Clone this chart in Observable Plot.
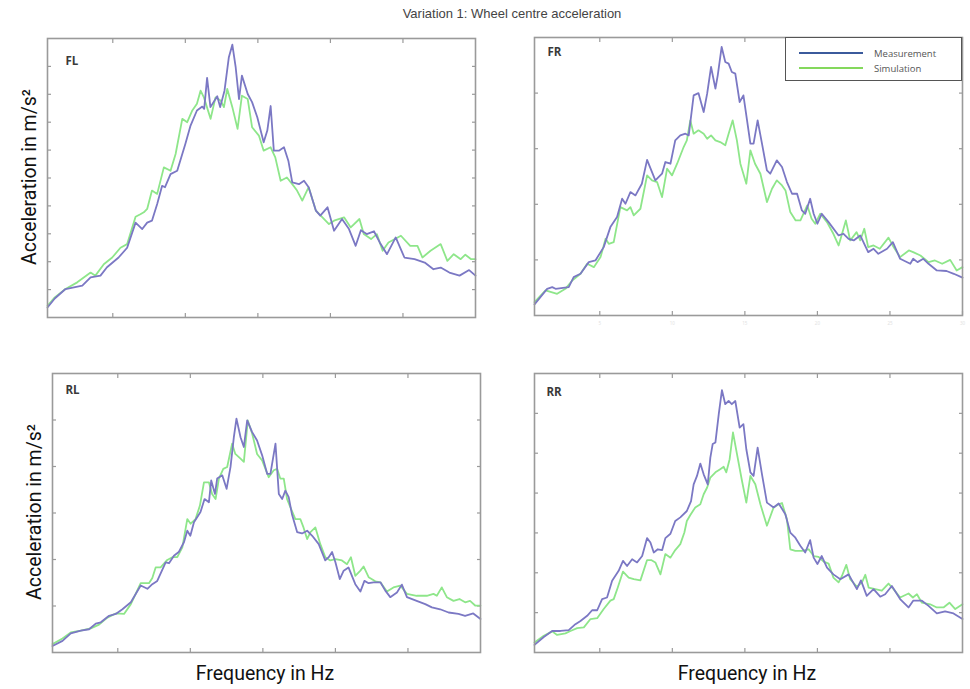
<!DOCTYPE html>
<html>
<head>
<meta charset="utf-8">
<script src="https://cdn.jsdelivr.net/npm/d3@7"></script>
<script src="https://cdn.jsdelivr.net/npm/@observablehq/plot@0.6"></script>
<style>
  body { margin: 0; background: #fff; }
  #chart { position: relative; width: 970px; height: 689px; overflow: hidden; background: #fff; }
  .panel { position: absolute; }
  .title { position: absolute; left: 312px; width: 400px; top: 6px; text-align: center;
           font: 13px "Liberation Sans", Arial, sans-serif; color: #444; }
  .ylab { position: absolute; width: 240px; text-align: center; transform: rotate(-90deg);
          font: 19.5px Roboto, "Noto Sans", sans-serif; color: #111; line-height: 22px; }
  .xlab { position: absolute; width: 240px; text-align: center;
          font: 19.5px Roboto, "Noto Sans", sans-serif; color: #111; line-height: 22px; }
  .legend { position: absolute; left: 785px; top: 37px; width: 175px; height: 42px;
            border: 1.5px solid #555; background: #fff; font: 9.5px "Open Sans", sans-serif; color: #555; }
  .legend .row { position: absolute; left: 0; height: 12px; display: flex; align-items: center; }
  .legend .sw { display: inline-block; width: 64px; height: 2.5px; margin-left: 13px; margin-right: 11px; }
</style>
</head>
<body>
<div id="chart">
  <div class="title">Variation 1: Wheel centre acceleration</div>
</div>
<script>
// Frequency axis (Hz) and tick positions
const freqDomain = [0.5, 30];
const freqTicks = [5, 10, 15, 20, 25];
const freqTicksLabelled = [5, 10, 15, 20, 25, 30];
const seriesNames = ["Measurement", "Simulation"];
const panelNames = ["FL", "FR", "RL", "RR"];
const yMaxima = [10, 5, 6, 7];

// Front left wheel: [frequency, acceleration]
const flMeasurement = [[0.5,0.36],[1.0,0.68],[1.74,1.02],[2.9,1.14],[3.47,1.44],[4.15,1.5],[4.6,1.8],[5.4,2.15],[5.99,2.5],[6.57,3.4],[7.03,3.17],[7.37,3.4],[7.7,3.47],[8.06,4.07],[8.4,4.72],[8.6,4.67],[8.98,5.14],[9.44,5.26],[9.79,5.86],[10.0,6.22],[10.36,6.88],[10.8,7.42],[11.17,7.56],[11.3,7.48],[11.5,8.59],[11.73,7.54],[12.2,7.93],[12.4,7.54],[12.7,8.13],[13.0,9.33],[13.24,9.78],[13.47,8.97],[13.7,7.83],[13.9,8.67],[14.3,8.01],[14.6,7.72],[14.96,7.18],[15.4,6.28],[15.65,6.7],[15.88,7.58],[16.1,5.98],[16.45,5.98],[16.8,6.1],[17.1,5.62],[17.37,4.84],[17.83,4.78],[18.18,4.9],[18.5,4.67],[19.0,3.83],[19.3,3.65],[19.8,3.95],[20.25,3.11],[20.8,3.53],[21.28,3.17],[21.74,2.57],[22.1,3.13],[22.5,2.99],[23.0,3.09],[23.4,2.69],[23.9,2.27],[24.5,2.87],[25.1,2.15],[25.8,2.09],[26.5,1.97],[27.1,1.73],[27.6,1.79],[28.2,1.61],[28.9,1.5],[29.56,1.7],[30,1.5]];
const flSimulation = [[0.5,0.42],[1.0,0.72],[1.74,1.02],[2.55,1.26],[3.47,1.61],[3.8,1.5],[4.38,1.91],[4.96,2.15],[5.53,2.5],[5.99,2.63],[6.57,3.61],[6.9,3.7],[7.14,3.77],[7.37,3.89],[7.7,4.55],[8.06,4.43],[8.52,5.38],[8.98,5.26],[9.33,5.86],[9.79,7.12],[10.13,7.0],[10.48,7.42],[10.8,7.66],[11.05,8.13],[11.28,7.89],[11.74,7.12],[12.08,7.89],[12.43,7.78],[12.66,7.54],[12.89,8.19],[13.24,7.54],[13.6,6.76],[13.9,7.95],[14.3,7.83],[14.6,6.82],[15.07,6.52],[15.4,5.98],[15.88,6.1],[16.2,5.74],[16.57,4.9],[17.0,5.02],[17.37,4.78],[17.7,4.55],[18.06,4.19],[18.5,4.67],[19.0,3.83],[19.45,3.59],[19.9,3.35],[20.25,3.47],[20.94,3.59],[21.4,3.23],[22.0,3.53],[22.3,2.99],[22.8,2.81],[23.2,2.99],[23.6,2.39],[24.0,2.69],[24.86,2.93],[25.5,2.57],[26.0,2.57],[26.34,2.15],[26.9,2.39],[27.6,2.63],[28.06,2.03],[28.5,2.27],[28.98,2.09],[29.3,2.25],[29.7,2.09],[30,2.09]];

// Front right wheel
const frMeasurement = [[0.5,0.2],[1.37,0.48],[1.72,0.51],[1.95,0.48],[2.86,0.51],[3.2,0.69],[3.67,0.75],[4.24,0.96],[4.7,0.99],[5.27,1.23],[5.73,1.59],[6.19,1.77],[6.54,2.1],[6.77,2.01],[7.11,2.22],[7.46,2.16],[7.9,2.37],[8.26,2.8],[8.6,2.58],[8.83,2.43],[9.29,2.55],[9.52,2.76],[9.87,2.73],[10.2,3.15],[10.55,3.24],[10.9,3.27],[11.13,3.24],[11.47,3.96],[11.8,4.0],[12.16,3.66],[12.4,3.99],[12.67,4.47],[12.97,4.08],[13.13,4.32],[13.4,4.83],[13.65,4.56],[13.88,4.53],[14.1,4.38],[14.34,4.35],[14.64,3.84],[14.9,3.96],[15.15,3.51],[15.38,3.09],[15.6,3.09],[15.88,3.51],[16.18,3.09],[16.52,2.61],[16.75,2.55],[17.2,2.79],[17.56,2.67],[17.9,2.4],[18.25,2.19],[18.6,2.19],[18.93,1.89],[19.16,1.83],[19.5,2.1],[19.74,1.83],[20.0,1.65],[20.3,1.83],[20.77,1.68],[21.46,1.44],[21.8,1.47],[22.15,1.38],[22.5,1.35],[22.95,1.44],[23.5,1.14],[23.87,1.2],[24.2,1.11],[24.8,1.2],[25.2,1.32],[25.7,1.02],[26.4,0.93],[26.6,1.02],[26.9,0.96],[27.3,1.02],[27.66,0.93],[28.23,0.81],[28.9,0.8],[29.4,0.75],[30,0.68]];
const frSimulation = [[0.5,0.24],[1.26,0.45],[2.06,0.39],[2.63,0.48],[3.1,0.63],[3.67,0.75],[4.13,0.93],[4.59,0.87],[5.05,1.05],[5.4,1.38],[5.62,1.29],[5.96,1.32],[6.42,1.95],[6.88,1.89],[7.11,1.95],[7.34,1.8],[7.8,1.92],[8.26,2.52],[8.6,2.43],[8.95,2.4],[9.29,2.13],[9.64,2.64],[9.98,2.52],[10.33,2.73],[10.78,3.03],[11.0,3.15],[11.24,3.51],[11.47,3.27],[11.8,3.33],[12.16,3.27],[12.4,3.18],[12.67,3.24],[12.97,3.15],[13.3,3.12],[13.65,3.06],[13.88,3.27],[14.16,3.51],[14.45,3.15],[14.69,2.73],[15.1,2.37],[15.38,2.97],[15.7,2.73],[16.07,2.55],[16.52,2.04],[16.87,2.28],[17.2,2.43],[17.56,2.34],[17.8,2.25],[18.13,1.86],[18.5,1.71],[18.83,1.71],[19.3,1.98],[19.6,1.74],[19.85,1.65],[20.2,1.83],[20.66,1.68],[21.1,1.47],[21.46,1.26],[21.7,1.47],[21.96,1.71],[22.26,1.35],[22.7,1.5],[22.95,1.35],[23.23,1.56],[23.5,1.23],[23.87,1.26],[24.3,1.2],[24.9,1.4],[25.25,1.23],[25.7,1.05],[26.3,1.17],[26.6,1.14],[27.1,1.08],[27.66,0.96],[28.1,0.99],[28.6,0.93],[29.15,1.0],[29.6,0.81],[30,0.87]];

// Rear left wheel
const rlMeasurement = [[0.5,0.14],[1.19,0.25],[1.76,0.41],[2.45,0.47],[3.02,0.5],[3.48,0.62],[3.83,0.65],[4.4,0.79],[4.86,0.83],[5.32,0.93],[5.9,1.08],[6.58,1.44],[7.04,1.37],[7.38,1.47],[7.72,1.54],[8.3,1.94],[8.53,1.92],[8.87,2.08],[9.2,2.16],[9.56,2.37],[9.79,2.62],[10.0,2.51],[10.25,2.8],[10.7,3.02],[10.98,3.3],[11.28,3.23],[11.44,3.7],[11.7,3.41],[11.85,3.74],[12.2,3.81],[12.5,3.52],[12.77,3.99],[13.0,4.63],[13.18,5.03],[13.46,4.63],[13.69,4.42],[13.92,4.99],[14.26,4.74],[14.6,4.56],[14.95,4.24],[15.3,3.84],[15.52,3.84],[15.87,4.49],[16.1,3.41],[16.33,3.3],[16.55,3.48],[16.78,3.34],[17.0,2.98],[17.36,2.59],[17.7,2.56],[18.05,2.62],[18.4,2.51],[18.85,2.33],[19.3,1.98],[19.54,2.05],[19.77,2.16],[20.0,1.94],[20.3,1.58],[20.57,1.76],[20.9,1.83],[21.37,1.47],[21.72,1.31],[22.0,1.54],[22.29,1.49],[22.63,1.51],[23.1,1.51],[23.44,1.33],[23.78,1.19],[24.24,1.29],[24.58,1.46],[24.93,1.19],[25.6,1.11],[26.19,1.04],[26.65,0.97],[27.22,0.93],[27.8,0.86],[28.48,0.83],[28.94,0.79],[29.5,0.84],[30,0.72]];
const rlSimulation = [[0.5,0.18],[1.19,0.3],[1.76,0.43],[2.45,0.47],[3.14,0.52],[3.71,0.6],[4.28,0.75],[4.86,0.84],[5.43,0.83],[5.9,1.04],[6.58,1.49],[7.15,1.49],[7.38,1.6],[7.61,1.83],[7.95,1.83],[8.41,1.99],[8.76,2.05],[9.1,2.05],[9.45,2.26],[9.79,2.87],[10.02,2.77],[10.36,2.87],[10.66,3.16],[10.94,3.66],[11.28,3.66],[11.5,3.41],[11.74,3.3],[11.97,3.74],[12.27,3.95],[12.54,3.99],[12.88,4.49],[13.1,4.27],[13.46,4.17],[13.69,4.1],[13.96,4.99],[14.26,4.71],[14.6,4.27],[14.95,4.13],[15.4,3.77],[15.75,3.92],[15.98,3.95],[16.2,3.74],[16.44,3.74],[16.67,3.3],[16.9,3.12],[17.24,2.87],[17.58,2.87],[17.8,2.69],[18.05,2.44],[18.28,2.59],[18.62,2.69],[18.96,2.33],[19.3,2.05],[19.65,1.98],[20.0,2.01],[20.45,1.98],[20.8,1.9],[21.07,2.05],[21.37,1.65],[21.72,1.76],[21.94,1.85],[22.29,1.62],[22.75,1.53],[23.1,1.51],[23.55,1.31],[24.0,1.4],[24.47,1.44],[24.93,1.26],[25.6,1.22],[26.3,1.22],[26.76,1.26],[26.99,1.22],[27.33,1.4],[27.68,1.19],[28.14,1.11],[28.55,1.15],[28.94,1.08],[29.28,1.11],[29.63,1.01],[30,1.01]];

// Rear right wheel
const rrMeasurement = [[0.5,0.19],[1.14,0.39],[1.72,0.54],[2.29,0.54],[2.86,0.56],[3.32,0.71],[3.67,0.79],[4.13,0.92],[4.47,1.06],[4.82,1.06],[5.16,1.34],[5.5,1.38],[5.85,1.8],[6.3,2.05],[6.6,2.3],[6.88,2.17],[7.23,2.34],[7.57,2.26],[7.92,2.42],[8.26,2.87],[8.49,2.76],[8.72,2.51],[9.0,2.59],[9.3,2.57],[9.52,2.87],[9.87,2.98],[10.2,3.3],[10.55,3.39],[11.0,3.55],[11.29,3.8],[11.47,4.22],[11.7,4.43],[11.93,4.74],[12.16,4.47],[12.44,4.22],[12.62,4.89],[12.78,5.23],[12.97,5.27],[13.2,5.98],[13.42,6.58],[13.65,6.23],[13.88,6.31],[14.1,6.23],[14.34,6.31],[14.64,5.64],[14.9,5.73],[15.1,5.1],[15.38,4.52],[15.6,4.43],[15.88,5.14],[16.18,4.47],[16.52,3.76],[16.98,3.64],[17.33,3.74],[17.79,3.47],[18.13,3.01],[18.48,2.88],[18.82,2.68],[19.16,2.51],[19.5,2.82],[19.74,2.38],[20.0,2.22],[20.3,2.42],[20.66,2.13],[21.1,1.96],[21.58,1.84],[22.15,1.96],[22.72,1.59],[23.0,1.81],[23.4,1.42],[23.87,1.59],[24.33,1.4],[24.67,1.46],[25.13,1.67],[25.7,1.34],[26.28,1.13],[26.6,1.3],[27.2,1.3],[27.66,1.17],[28.23,0.98],[28.8,1.03],[29.38,0.98],[30,0.84]];
const rrSimulation = [[0.5,0.25],[1.14,0.42],[1.72,0.53],[2.06,0.44],[2.63,0.48],[2.98,0.54],[3.44,0.61],[3.9,0.63],[4.36,0.84],[4.82,0.86],[5.27,1.09],[5.73,1.3],[5.96,1.34],[6.24,1.63],[6.6,2.03],[6.99,1.88],[7.34,1.84],[7.8,1.81],[8.26,2.32],[8.54,2.32],[8.83,2.26],[9.18,1.96],[9.52,2.47],[9.87,2.38],[10.2,2.57],[10.55,2.72],[10.83,3.01],[11.0,3.3],[11.24,3.45],[11.58,3.64],[11.93,3.72],[12.16,3.97],[12.4,4.14],[12.62,4.39],[12.97,4.52],[13.3,4.6],[13.54,4.66],[13.72,4.52],[13.95,4.85],[14.18,5.52],[14.46,4.97],[14.8,4.31],[15.1,3.76],[15.38,4.43],[15.72,4.22],[16.07,3.72],[16.52,3.18],[16.98,3.64],[17.33,3.72],[17.56,3.75],[17.9,3.34],[18.13,2.59],[18.48,2.55],[18.93,2.55],[19.4,2.59],[19.74,2.42],[20.08,2.4],[20.43,2.28],[20.77,2.23],[21.1,1.88],[21.46,1.76],[21.69,1.92],[21.99,2.2],[22.26,1.84],[22.72,1.65],[23.07,1.76],[23.3,1.95],[23.53,1.63],[23.98,1.59],[24.44,1.55],[24.9,1.73],[25.25,1.59],[25.7,1.38],[26.28,1.48],[26.58,1.38],[26.86,1.46],[27.2,1.25],[27.77,1.21],[28.23,1.13],[28.69,1.13],[29.1,1.25],[29.5,1.09],[30,1.21]];

const measColor = "#7b78c4";
const simColor = "#8ee68a";
const frameColor = "#9a9a9a";

// Plot-area boxes of the four panels inside the page
const boxes = [
  {left: 47,  top: 38,  w: 428, h: 279},
  {left: 534, top: 37,  w: 428, h: 278},
  {left: 52,  top: 373, w: 428, h: 279},
  {left: 534, top: 373, w: 428, h: 279}
];
const labelOffsets = [[18, 23], [13, 15], [13, 17], [12, 19]];
const panelData = [
  [flMeasurement, flSimulation],
  [frMeasurement, frSimulation],
  [rlMeasurement, rlSimulation],
  [rrMeasurement, rrSimulation]
];

const M = {l: 12, r: 12, t: 8, b: 16};
const chart = document.getElementById("chart");

panelNames.forEach((name, i) => {
  const box = boxes[i];
  const [meas, sim] = panelData[i];
  const yMax = yMaxima[i];
  const yTicks = d3.range(1, yMax);
  const showFreqLabels = name === "FR";
  const rows = [
    ...sim.map(([f, a]) => ({f, a, s: seriesNames[1]})),
    ...meas.map(([f, a]) => ({f, a, s: seriesNames[0]}))
  ];
  const svg = Plot.plot({
    width: box.w + M.l + M.r,
    height: box.h + M.t + M.b,
    marginLeft: M.l, marginRight: M.r, marginTop: M.t, marginBottom: M.b,
    style: {background: "transparent", overflow: "visible"},
    x: {domain: freqDomain},
    y: {domain: [0, yMax]},
    marks: [
      Plot.axisX({anchor: "bottom", ticks: showFreqLabels ? freqTicksLabelled : freqTicks, tickSize: -4, tickPadding: 10,
        tickFormat: showFreqLabels ? (d => d) : (() => ""), label: null, stroke: frameColor, strokeWidth: 1.2,
        fill: "#e2e2e2", fontSize: 4.5}),
      Plot.axisX({anchor: "top", ticks: freqTicks, tickSize: -4, tickFormat: () => "", label: null, stroke: frameColor, strokeWidth: 1.2}),
      Plot.axisY({anchor: "left", ticks: yTicks, tickSize: -4, tickFormat: () => "", label: null, stroke: frameColor, strokeWidth: 1.2}),
      Plot.axisY({anchor: "right", ticks: yTicks, tickSize: -4, tickFormat: () => "", label: null, stroke: frameColor, strokeWidth: 1.2}),
      Plot.line(rows, {x: "f", y: "a", z: "s", stroke: d => d.s === seriesNames[0] ? measColor : simColor,
        strokeWidth: 1.8, strokeLinejoin: "round"}),
      Plot.frame({stroke: frameColor, strokeWidth: 1.6}),
      Plot.text([name], {frameAnchor: "top-left", dx: labelOffsets[i][0], dy: labelOffsets[i][1], lineAnchor: "middle",
        fontSize: 11.5, fontWeight: "bold", fill: "#3a3a3a", fontFamily: "'Open Sans', sans-serif"})
    ]
  });
  svg.classList.add("panel");
  svg.style.left = (box.left - M.l) + "px";
  svg.style.top = (box.top - M.t) + "px";
  chart.appendChild(svg);
});

// Axis titles
[[30, 177], [35, 512]].forEach(([cx, cy]) => {
  const d = document.createElement("div");
  d.className = "ylab";
  d.textContent = "Acceleration in m/s²";
  d.style.left = (cx - 120) + "px";
  d.style.top = (cy - 11) + "px";
  chart.appendChild(d);
});
[[265, 674], [747, 674]].forEach(([cx, cy]) => {
  const d = document.createElement("div");
  d.className = "xlab";
  d.textContent = "Frequency in Hz";
  d.style.left = (cx - 120) + "px";
  d.style.top = (cy - 11) + "px";
  chart.appendChild(d);
});

// Legend in the front-right panel
const legend = document.createElement("div");
legend.className = "legend";
[["#3b5a9c", seriesNames[0], 9], ["#84d85c", seriesNames[1], 24]].forEach(([c, t, top]) => {
  const row = document.createElement("div");
  row.className = "row";
  row.style.top = top + "px";
  const sw = document.createElement("span");
  sw.className = "sw";
  sw.style.background = c;
  const tx = document.createElement("span");
  tx.textContent = t;
  row.appendChild(sw);
  row.appendChild(tx);
  legend.appendChild(row);
});
chart.appendChild(legend);
</script>
</body>
</html>
